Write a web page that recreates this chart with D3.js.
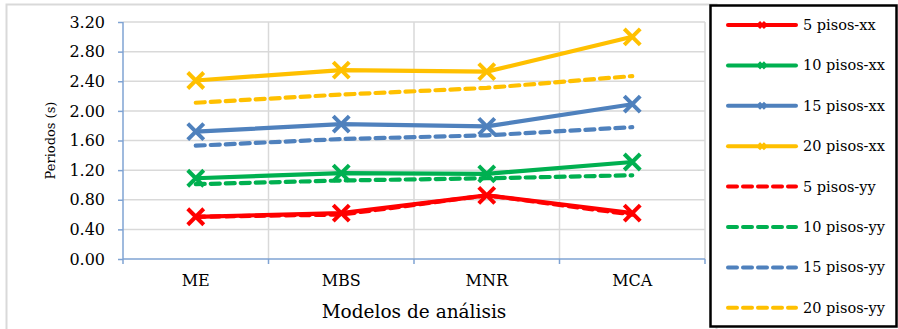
<!DOCTYPE html>
<html>
<head>
<meta charset="utf-8">
<script src="https://cdn.jsdelivr.net/npm/d3@7"></script>
<style>
  html, body { margin: 0; padding: 0; background: #fff; }
  svg text { font-family: "DejaVu Serif", "Liberation Serif", serif; fill: #000; }
</style>
</head>
<body>
<svg id="chart" width="898" height="329"></svg>
<script>
// Categories (analysis models)
const categories = ["ME", "MBS", "MNR", "MCA"];

// Periods (s) per building height, X direction
const pisos5xx  = [0.57, 0.62, 0.86, 0.62];
const pisos10xx = [1.09, 1.16, 1.15, 1.31];
const pisos15xx = [1.72, 1.82, 1.79, 2.09];
const pisos20xx = [2.41, 2.55, 2.53, 3.00];

// Periods (s) per building height, Y direction
const pisos5yy  = [0.57, 0.60, 0.86, 0.60];
const pisos10yy = [1.01, 1.06, 1.09, 1.13];
const pisos15yy = [1.53, 1.62, 1.67, 1.78];
const pisos20yy = [2.11, 2.22, 2.31, 2.47];

const yTicks = [0, 0.4, 0.8, 1.2, 1.6, 2.0, 2.4, 2.8, 3.2];

const series = [
  { name: "5 pisos-xx",  values: pisos5xx,  color: "#FF0000", dashed: false },
  { name: "10 pisos-xx", values: pisos10xx, color: "#00B050", dashed: false },
  { name: "15 pisos-xx", values: pisos15xx, color: "#4F81BD", dashed: false },
  { name: "20 pisos-xx", values: pisos20xx, color: "#FFC000", dashed: false },
  { name: "5 pisos-yy",  values: pisos5yy,  color: "#FF0000", dashed: true },
  { name: "10 pisos-yy", values: pisos10yy, color: "#00B050", dashed: true },
  { name: "15 pisos-yy", values: pisos15yy, color: "#4F81BD", dashed: true },
  { name: "20 pisos-yy", values: pisos20yy, color: "#FFC000", dashed: true }
];

const svg = d3.select("#chart");
const plot = { left: 123, right: 705, top: 22, bottom: 259 };
const gridColor = "#D9D9D9";
const axisColor = "#7FA3D3";
const dash = "9 6";

// Outer chart frame
svg.append("rect")
  .attr("x", 6.5).attr("y", 4.5)
  .attr("width", 710).attr("height", 340)
  .attr("fill", "#fff").attr("stroke", gridColor).attr("stroke-width", 2);

const x = d3.scaleBand().domain(categories).range([plot.left, plot.right]).padding(0);
const y = d3.scaleLinear().domain([0, 3.2]).range([plot.bottom, plot.top]);

// Horizontal gridlines
svg.append("g")
  .selectAll("line")
  .data(yTicks.slice(1))
  .join("line")
  .attr("x1", plot.left).attr("x2", plot.right)
  .attr("y1", d => y(d)).attr("y2", d => y(d))
  .attr("stroke", gridColor).attr("stroke-width", 1.5);

// Vertical gridlines at category boundaries
const bounds = categories.map(c => x(c) + x.bandwidth());
svg.append("g")
  .selectAll("line")
  .data(bounds)
  .join("line")
  .attr("x1", d => d).attr("x2", d => d)
  .attr("y1", plot.top).attr("y2", plot.bottom)
  .attr("stroke", gridColor).attr("stroke-width", 1.5);

// Y axis
const yAxis = d3.axisLeft(y).tickValues(yTicks).tickFormat(d3.format(".2f")).tickSize(5).tickPadding(13);
const gy = svg.append("g").attr("transform", `translate(${plot.left},0)`).call(yAxis);
gy.select(".domain").attr("stroke", axisColor).attr("stroke-width", 1.5).attr("d", `M0,${plot.top}V${plot.bottom}`);
gy.selectAll(".tick line").attr("stroke", axisColor).attr("stroke-width", 1.5);
gy.selectAll(".tick text").attr("font-size", 16).attr("font-family", "DejaVu Serif").attr("fill", "#000");

// X axis
const xAxis = d3.axisBottom(x).tickSize(0).tickPadding(16);
const gx = svg.append("g").attr("transform", `translate(0,${plot.bottom})`).call(xAxis);
gx.select(".domain").attr("stroke", axisColor).attr("stroke-width", 1.5).attr("d", `M${plot.left},0H${plot.right}`);
gx.selectAll(".tick text").attr("font-size", 16).attr("font-family", "DejaVu Serif").attr("fill", "#000");
gx.selectAll(".bound")
  .data([plot.left].concat(bounds))
  .join("line")
  .attr("class", "bound")
  .attr("x1", d => d).attr("x2", d => d)
  .attr("y1", 0).attr("y2", 5)
  .attr("stroke", axisColor).attr("stroke-width", 1.5);

// Axis titles
svg.append("text")
  .attr("transform", `translate(55,${(plot.top + plot.bottom) / 2}) rotate(-90)`)
  .attr("text-anchor", "middle")
  .attr("font-size", 13)
  .text("Periodos (s)");

svg.append("text")
  .attr("x", (plot.left + plot.right) / 2).attr("y", 318)
  .attr("text-anchor", "middle")
  .attr("font-size", 18.5)
  .text("Modelos de análisis");

// Series lines
const cx = c => x(c) + x.bandwidth() / 2;
const line = d3.line().x((d, i) => cx(categories[i])).y(d => y(d));

const gSeries = svg.append("g");
series.forEach(s => {
  gSeries.append("path")
    .attr("d", line(s.values))
    .attr("fill", "none")
    .attr("stroke", s.color)
    .attr("stroke-width", 4.2)
    .attr("stroke-linejoin", "round")
    .attr("stroke-linecap", s.dashed ? "round" : "butt")
    .attr("stroke-dasharray", s.dashed ? dash : null);
});

// Cross markers on the X-direction series
function cross(g, px, py, r, color, w) {
  g.append("path")
    .attr("d", `M${px - r},${py - r}L${px + r},${py + r}M${px - r},${py + r}L${px + r},${py - r}`)
    .attr("stroke", color).attr("stroke-width", w).attr("fill", "none");
}
series.filter(s => !s.dashed).forEach(s => {
  s.values.forEach((v, i) => cross(gSeries, cx(categories[i]), y(v), 8, s.color, 4));
});

// Legend
const lg = svg.append("g");
lg.append("rect")
  .attr("x", 710.5).attr("y", 5.5)
  .attr("width", 186).attr("height", 321)
  .attr("fill", "#fff").attr("stroke", "#000").attr("stroke-width", 2.5);

series.forEach((s, i) => {
  const ly = 25 + i * 40.4;
  lg.append("line")
    .attr("x1", 728).attr("x2", 796)
    .attr("y1", ly).attr("y2", ly)
    .attr("stroke", s.color).attr("stroke-width", 4)
    .attr("stroke-linecap", "round")
    .attr("stroke-dasharray", s.dashed ? "9 6" : null);
  if (!s.dashed) cross(lg, 762, ly, 3, s.color, 3);
  lg.append("text")
    .attr("x", 803).attr("y", ly + 5)
    .attr("font-size", 14.5)
    .text(s.name);
});
</script>
</body>
</html>
